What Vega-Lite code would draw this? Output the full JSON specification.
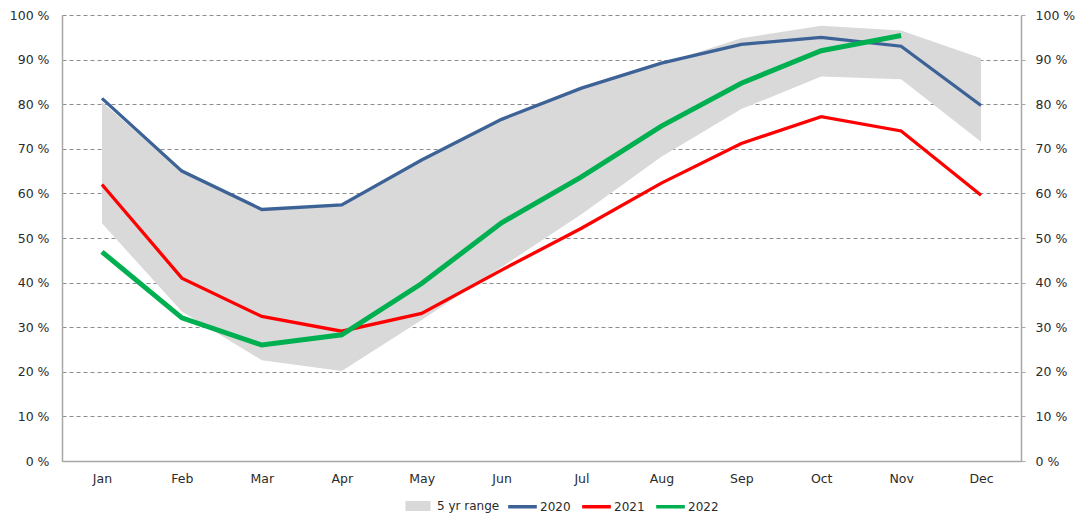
{
  "$schema": "https://vega.github.io/schema/vega-lite/v6.json",
  "width": 959,
  "height": 446,
  "autosize": {"type": "none"},
  "padding": {"left": 62, "top": 15, "right": 55, "bottom": 54},
  "background": "white",
  "config": {
    "font": "DejaVu Sans",
    "view": {"stroke": null},
    "axis": {"labelFont": "DejaVu Sans", "labelFontSize": 12.5, "labelColor": "#2b2b2b", "domainColor": "#A6A6A6", "domainWidth": 1.5},
    "legend": {"labelFont": "DejaVu Sans", "labelFontSize": 12, "labelColor": "#2b2b2b"}
  },
  "datasets": {
    "range": [
      {"month": "Jan", "lo": 53.3, "hi": 80.5, "label": "5 yr range"},
      {"month": "Feb", "lo": 33.5, "hi": 64.8, "label": "5 yr range"},
      {"month": "Mar", "lo": 22.6, "hi": 56.2, "label": "5 yr range"},
      {"month": "Apr", "lo": 20.2, "hi": 57.2, "label": "5 yr range"},
      {"month": "May", "lo": 31.6, "hi": 67.3, "label": "5 yr range"},
      {"month": "Jun", "lo": 43.5, "hi": 76.4, "label": "5 yr range"},
      {"month": "Jul", "lo": 55.3, "hi": 83.4, "label": "5 yr range"},
      {"month": "Aug", "lo": 68.2, "hi": 89.0, "label": "5 yr range"},
      {"month": "Sep", "lo": 78.9, "hi": 94.8, "label": "5 yr range"},
      {"month": "Oct", "lo": 86.2, "hi": 97.6, "label": "5 yr range"},
      {"month": "Nov", "lo": 85.6, "hi": 96.5, "label": "5 yr range"},
      {"month": "Dec", "lo": 71.6, "hi": 90.3, "label": "5 yr range"}
    ],
    "series": [
      {"month": "Jan", "series": "2020", "value": 81.3},
      {"month": "Feb", "series": "2020", "value": 65.0},
      {"month": "Mar", "series": "2020", "value": 56.4},
      {"month": "Apr", "series": "2020", "value": 57.4},
      {"month": "May", "series": "2020", "value": 67.5},
      {"month": "Jun", "series": "2020", "value": 76.6},
      {"month": "Jul", "series": "2020", "value": 83.6},
      {"month": "Aug", "series": "2020", "value": 89.2},
      {"month": "Sep", "series": "2020", "value": 93.4},
      {"month": "Oct", "series": "2020", "value": 95.0},
      {"month": "Nov", "series": "2020", "value": 93.0},
      {"month": "Dec", "series": "2020", "value": 79.7},
      {"month": "Jan", "series": "2021", "value": 62.0},
      {"month": "Feb", "series": "2021", "value": 41.0},
      {"month": "Mar", "series": "2021", "value": 32.4},
      {"month": "Apr", "series": "2021", "value": 29.1},
      {"month": "May", "series": "2021", "value": 33.1},
      {"month": "Jun", "series": "2021", "value": 42.8},
      {"month": "Jul", "series": "2021", "value": 52.2},
      {"month": "Aug", "series": "2021", "value": 62.3},
      {"month": "Sep", "series": "2021", "value": 71.2},
      {"month": "Oct", "series": "2021", "value": 77.2},
      {"month": "Nov", "series": "2021", "value": 74.0},
      {"month": "Dec", "series": "2021", "value": 59.6},
      {"month": "Jan", "series": "2022", "value": 46.9},
      {"month": "Feb", "series": "2022", "value": 32.1},
      {"month": "Mar", "series": "2022", "value": 26.0},
      {"month": "Apr", "series": "2022", "value": 28.3},
      {"month": "May", "series": "2022", "value": 39.8},
      {"month": "Jun", "series": "2022", "value": 53.4},
      {"month": "Jul", "series": "2022", "value": 63.7},
      {"month": "Aug", "series": "2022", "value": 75.1},
      {"month": "Sep", "series": "2022", "value": 84.7},
      {"month": "Oct", "series": "2022", "value": 92.0},
      {"month": "Nov", "series": "2022", "value": 95.4}
    ]
  },
  "layer": [
    {
      "data": {"name": "range"},
      "mark": {"type": "area", "opacity": 1},
      "encoding": {
        "x": {
          "field": "month", "type": "ordinal",
          "sort": ["Jan","Feb","Mar","Apr","May","Jun","Jul","Aug","Sep","Oct","Nov","Dec"],
          "scale": {"type": "point", "padding": 0.5},
          "axis": {"title": null, "ticks": false, "labelPadding": 11, "labelAngle": 0, "grid": false}
        },
        "y": {
          "field": "lo", "type": "quantitative",
          "scale": {"domain": [0, 100], "nice": false},
          "axis": {
            "orient": "left", "title": null, "values": [0,10,20,30,40,50,60,70,80,90,100],
            "labelExpr": "datum.value + ' %'", "grid": true, "gridDash": [4, 3], "gridColor": "#8C8C8C",
            "gridWidth": 1, "ticks": false, "labelPadding": 13
          }
        },
        "y2": {"field": "hi"},
        "fill": {
          "field": "label", "type": "nominal",
          "scale": {"domain": ["5 yr range"], "range": ["#D9D9D9"]},
          "legend": {
            "orient": "none", "legendX": 350, "legendY": 485, "title": null,
            "symbolType": "M-2.5,-1H2.5V1H-2.5Z", "symbolSize": 100, "symbolStrokeWidth": 0,
            "labelOffset": 13
          }
        }
      }
    },
    {
      "data": {"name": "series"},
      "mark": {"type": "line", "strokeCap": "butt", "strokeJoin": "miter"},
      "encoding": {
        "x": {
          "field": "month", "type": "ordinal",
          "sort": ["Jan","Feb","Mar","Apr","May","Jun","Jul","Aug","Sep","Oct","Nov","Dec"],
          "scale": {"type": "point", "padding": 0.5}
        },
        "y": {
          "field": "value", "type": "quantitative",
          "scale": {"domain": [0, 100], "nice": false},
          "axis": {
            "orient": "right", "title": null, "values": [0,10,20,30,40,50,60,70,80,90,100],
            "labelExpr": "datum.value + ' %'", "grid": false, "ticks": true, "tickSize": 4,
            "tickColor": "#A6A6A6", "labelPadding": 10
          }
        },
        "stroke": {
          "field": "series", "type": "nominal",
          "scale": {"domain": ["2020", "2021", "2022"], "range": ["#3C6296", "#FF0000", "#00B050"]},
          "legend": {
            "orient": "none", "legendX": 444, "legendY": 475, "direction": "horizontal", "title": null,
            "symbolType": "stroke", "symbolSize": 820, "symbolStrokeWidth": 3.5, "columnPadding": 4,
            "labelOffset": 1
          }
        },
        "strokeWidth": {
          "condition": {"test": "datum.series === '2022'", "value": 5},
          "value": 3.3
        },
        "order": {"field": "series"}
      }
    }
  ],
  "resolve": {"axis": {"y": "independent"}}
}
